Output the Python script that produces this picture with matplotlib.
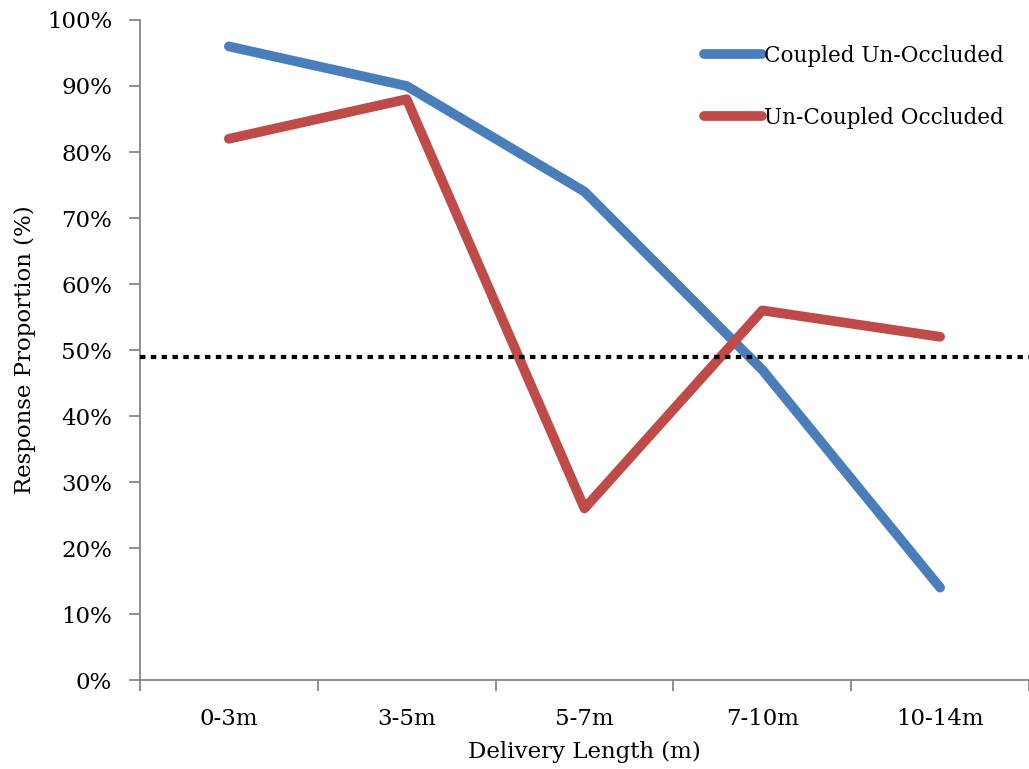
import matplotlib.pyplot as plt
from matplotlib.ticker import PercentFormatter

# Data
categories = ['0-3m', '3-5m', '5-7m', '7-10m', '10-14m']
coupled_unoccluded = [96, 90, 74, 47, 14]
uncoupled_occluded = [82, 88, 26, 56, 52]
chance_level = 49

plt.rcParams['font.family'] = ['DejaVu Serif']

fig = plt.figure(figsize=(10.29, 7.69), dpi=100)
ax = fig.add_axes([0.136, 0.1157, 0.864, 0.8583])

x = list(range(len(categories)))
ax.plot(x, coupled_unoccluded, color='#4a7ebb', linewidth=7,
        solid_capstyle='round', solid_joinstyle='round', label='Coupled Un-Occluded')
ax.plot(x, uncoupled_occluded, color='#be4b48', linewidth=7,
        solid_capstyle='round', solid_joinstyle='round', label='Un-Coupled Occluded')
ax.axhline(chance_level, color='black', linewidth=3, linestyle=(0, (1.3, 1.3)),
           dash_capstyle='butt', zorder=5)

# Axes
ax.set_xlim(-0.5, len(categories) - 0.5)
ax.set_ylim(0, 100)
ax.set_yticks(range(0, 101, 10))
ax.yaxis.set_major_formatter(PercentFormatter(decimals=0))
ax.set_xticks(x)
ax.set_xticklabels(categories)
ax.set_xticks([i - 0.5 for i in range(len(categories) + 1)], minor=True)
ax.tick_params(axis='x', which='major', length=0, pad=20, labelsize=16.5)
ax.tick_params(axis='x', which='minor', length=8, width=1.3, color='#868686')
ax.tick_params(axis='y', length=8, width=1.3, color='#868686', pad=12, labelsize=16.5)

for side in ['top', 'right']:
    ax.spines[side].set_visible(False)
for side in ['left', 'bottom']:
    ax.spines[side].set_color('#868686')
    ax.spines[side].set_linewidth(1.3)

ax.set_xlabel('Delivery Length (m)', fontsize=16.5, labelpad=8)
ax.set_ylabel('Response Proportion (%)', fontsize=16.5, labelpad=8)

ax.legend(loc='upper right', bbox_to_anchor=(1.0, 1.0), frameon=False,
          fontsize=15.5, handlelength=2.7, handletextpad=0.1, labelspacing=1.85,
          borderaxespad=0.75)

fig.savefig('out.png', dpi=100)
